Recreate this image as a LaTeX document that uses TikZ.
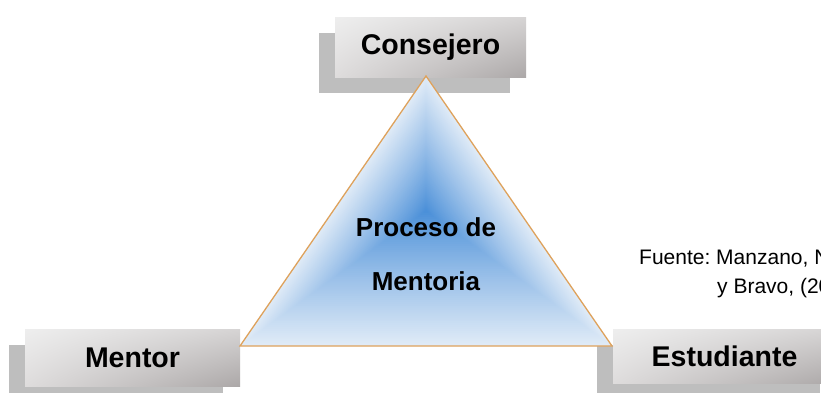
\documentclass[tikz,border=0pt]{standalone}
\usepackage{fontspec}
\setmainfont{Liberation Sans}
\usetikzlibrary{calc,shadings}
\definecolor{shadowc}{RGB}{190,190,190}
\definecolor{boxUL}{RGB}{238,238,238}
\definecolor{boxUR}{RGB}{214,212,212}
\definecolor{boxLL}{RGB}{222,220,220}
\definecolor{boxLR}{RGB}{172,168,168}
\definecolor{tEdge}{RGB}{224,235,247}
\definecolor{tCenter}{RGB}{72,142,216}
\definecolor{triline}{RGB}{222,162,92}
\tikzset{
  labelbox/.style={shade, upper left=boxUL, upper right=boxUR, lower left=boxLL, lower right=boxLR,
    inner sep=0pt, font=\fontsize{28.5}{30}\selectfont\bfseries},
  midtext/.style={align=center, font=\fontsize{26}{54}\selectfont\bfseries},
  srctext/.style={anchor=base west, inner sep=0pt, font=\fontsize{21}{25}\selectfont},
}
\frenchspacing
\begin{document}
\begin{tikzpicture}[x=1pt,y=-1pt]
\useasboundingbox (0,0) rectangle (821,392);
\fill[white] (0,0) rectangle (821,392);
% shadows
\fill[shadowc] (319,33) rectangle (510,93);
\fill[shadowc] (9,345) rectangle (223,402);
\fill[shadowc] (597,345) rectangle (820,402);
% label boxes
\node[labelbox, minimum width=191pt, minimum height=60pt] (cons) at (430.5,47) {Consejero};
\node[labelbox, minimum width=215pt, minimum height=57pt] (ment) at (132.5,357.5) {Mentor};
\node[labelbox, minimum width=223pt, minimum height=54pt] (estu) at (724.5,356) {Estudiante};
% triangle
\coordinate (A) at (426,76);
\coordinate (B) at (240,346);
\coordinate (C) at (612,346);
\coordinate (O) at (426,211);
\foreach \i in {0,...,69}{
  \pgfmathsetmacro\s{1-\i/70}
  \pgfmathsetmacro\p{100*(\s)^0.9}
  \fill[tEdge!\p!tCenter] ($(O)!\s!(A)$) -- ($(O)!\s!(B)$) -- ($(O)!\s!(C)$) -- cycle;
}
\draw[triline, line width=1.3pt, line join=miter] (A) -- (B) -- (C) -- cycle;
\node[midtext] (proc) at (426,254) {Proceso de\\Mentoria};
% source
\node[srctext] (src1) at (639,264) {Fuente: Manzano, N};
\node[srctext] (src2) at (717,293) {y Bravo, (20};
\end{tikzpicture}
\end{document}
